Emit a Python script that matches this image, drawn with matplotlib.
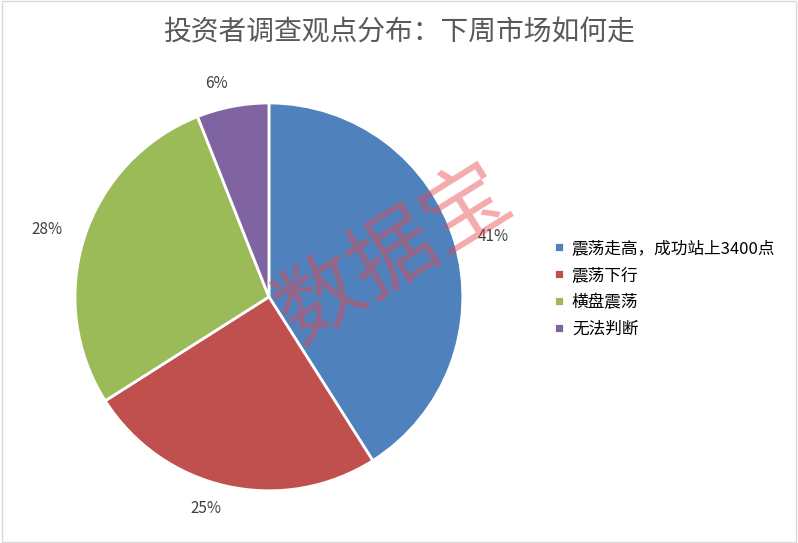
import matplotlib.pyplot as plt

plt.rcParams['font.family'] = ['Noto Sans CJK SC', 'DejaVu Sans']

labels = ['震荡走高，成功站上3400点', '震荡下行', '横盘震荡', '无法判断']
values = [41, 25, 28, 6]
colors = ['#4F81BD', '#C0504D', '#9BBB59', '#8064A2']

fig = plt.figure(figsize=(7.98, 5.43), dpi=100)
ax = fig.add_axes([0.094, 0.096, 0.486, 0.7145])
wedges, texts = ax.pie(values, colors=colors, startangle=90, counterclock=False,
                       wedgeprops=dict(edgecolor='white', linewidth=2),
                       labels=[f'{v}%' for v in values], labeldistance=1.12,
                       textprops=dict(fontsize=11, color='#404040', clip_on=False))
ax.set_xlim(-1, 1)
ax.set_ylim(-1, 1)
ax.set_aspect('equal')

fig.text(0.5, 0.94, '投资者调查观点分布：下周市场如何走', ha='center', va='center',
         fontsize=20, color='#595959')

fig.legend(wedges, labels, loc='center left', bbox_to_anchor=(0.675, 0.468),
           frameon=False, fontsize=12, handlelength=0.6, handleheight=0.6,
           labelspacing=0.6, handletextpad=0.5)

fig.text(0.495, 0.53, '数据宝', ha='center', va='center', rotation=32,
         fontsize=62, color='#E8454A', alpha=0.45)

fig.patches.append(plt.Rectangle((0.002, 0.002), 0.996, 0.996, transform=fig.transFigure,
                                 fill=False, edgecolor='#D9D9D9', linewidth=1))

fig.savefig('out.png', dpi=100)
